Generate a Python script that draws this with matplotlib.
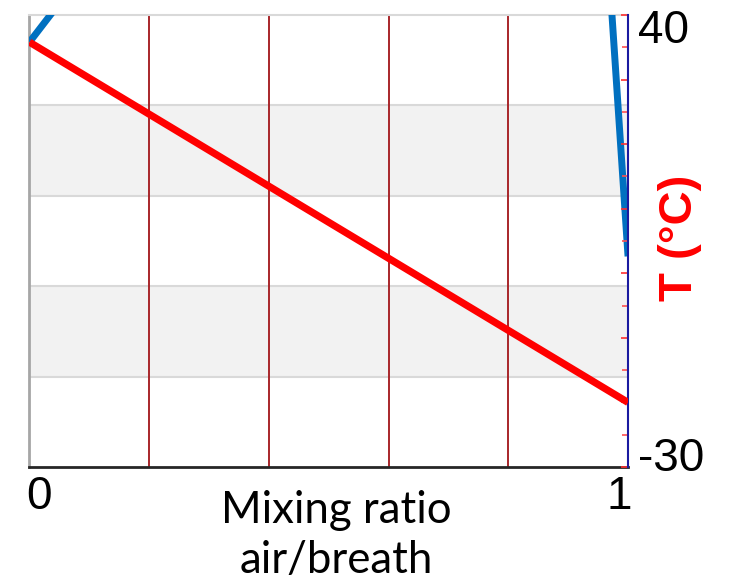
import matplotlib
matplotlib.use("Agg")
import matplotlib.pyplot as plt
from matplotlib.ticker import MultipleLocator, NullFormatter

# Mixing fraction of ambient air in exhaled breath
mix = [0.0, 1.0]
# Temperature of the mixture (°C), linear mixing between breath and air
temp_c = [35.8, -20.0]
# Relative humidity of the mixture (%), visible parts only (rest exceeds 100 %)
rh_mix = [0.0, 0.05, 0.97, 1.0]
rh_val = [94.0, 102.6, 106.3, 46.6]

rh_grid = [20, 40, 60, 80]
rh_bands = [(20, 40), (60, 80)]
mix_grid = [0.2, 0.4, 0.6, 0.8]
temp_range = (-30, 40)
x_labels = ["0", "1"]

fig = plt.figure(figsize=(7.33, 5.84), dpi=100)
ax = fig.add_axes([0.0402, 0.2003, 0.8166, 0.7740])
ax.set_xlim(0, 1)
ax.set_ylim(0, 100)

for lo, hi in rh_bands:
    ax.axhspan(lo, hi, color="#f2f2f2", lw=0, zorder=0)
for v in rh_grid:
    ax.axhline(v, color="#d9d9d9", lw=1.5, solid_capstyle="butt", zorder=1)
for v in mix_grid:
    ax.axvline(v, color="#a8262a", lw=1.4, solid_capstyle="butt", zorder=1.5)

ax.plot(rh_mix, rh_val, color="#0070c0", lw=5, solid_capstyle="butt", zorder=3)

ax.spines["left"].set_color("#a6a6a6")
ax.spines["left"].set_linewidth(2)
ax.spines["bottom"].set_color("#262626")
ax.spines["bottom"].set_linewidth(2)
ax.spines["top"].set_color("#d9d9d9")
ax.spines["top"].set_linewidth(1.5)
ax.spines["right"].set_visible(False)

ax2 = ax.twinx()
ax2.set_ylim(*temp_range)
ax2.plot(mix, temp_c, color="#ff0000", lw=5.2, solid_capstyle="butt", zorder=4)
ax2.yaxis.set_major_locator(MultipleLocator(10))
ax2.yaxis.set_minor_locator(MultipleLocator(5))
ax2.yaxis.set_major_formatter(NullFormatter())
ax2.tick_params(axis="y", which="major", direction="in", length=5, width=1.2, color="#ff3030")
ax2.tick_params(axis="y", which="minor", direction="in", length=4, width=1.2, color="#ff5050")
for side in ("left", "top", "bottom"):
    ax2.spines[side].set_visible(False)
ax2.spines["right"].set_color("#1a1aa0")
ax2.spines["right"].set_linewidth(1.5)

# no ticks on the host axes; the grid is drawn explicitly above
ax.set_xticks([])
ax.set_yticks([])

num_font = dict(family=["Liberation Sans", "DejaVu Sans"], fontsize=33, color="black")
ax2.annotate("40", xy=(1, temp_range[1]), xycoords=("axes fraction", "data"),
             xytext=(7, 4), textcoords="offset points", ha="left", va="top", **num_font)
ax2.annotate("-30", xy=(1, temp_range[0]), xycoords=("axes fraction", "data"),
             xytext=(7, -3), textcoords="offset points", ha="left", va="baseline", **num_font)
ax.annotate(x_labels[0], xy=(0, 0), xycoords=("data", "axes fraction"),
            xytext=(-2, -6), textcoords="offset points", ha="left", va="top", **num_font)
ax.annotate(x_labels[1], xy=(1, 0), xycoords=("data", "axes fraction"),
            xytext=(2.5, -6), textcoords="offset points", ha="right", va="top", **num_font)

fig.text(0.459, 0.1045, "Mixing ratio", ha="center", va="baseline",
         family="Lato", fontsize=31.5)
fig.text(0.459, 0.0190, "air/breath", ha="center", va="baseline",
         family="Lato", fontsize=31.5)
fig.text(0.928, 0.593, "T (°C)", rotation=90, ha="center", va="center",
         family=["Liberation Sans", "DejaVu Sans"], fontweight="bold", fontsize=34,
         color="#ff0000")

fig.savefig("out.png", dpi=100)
